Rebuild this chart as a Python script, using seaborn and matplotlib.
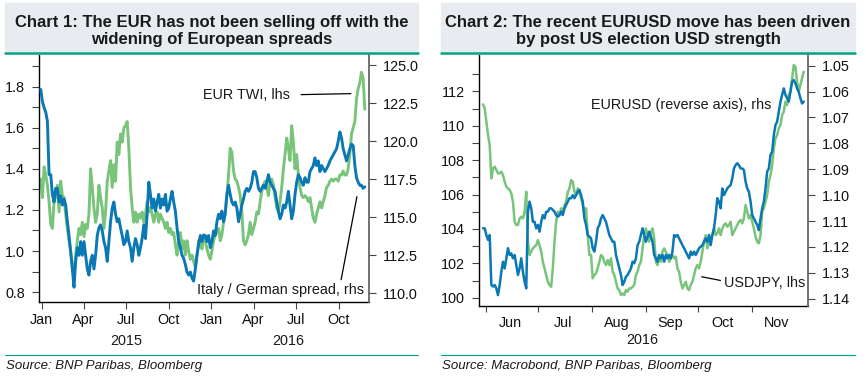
import pandas as pd
import seaborn as sns
import matplotlib.pyplot as plt
import matplotlib.dates as mdates
import matplotlib.ticker as tkr
from matplotlib.patches import Rectangle
from matplotlib.lines import Line2D

sns.set_style("ticks")
plt.rcParams['font.family'] = ['Liberation Sans', 'DejaVu Sans']
plt.rcParams['text.color'] = '#1a1a1a'

BLUE = '#0a78b4'
GREEN = '#78c47a'
TEAL = '#00a383'
BAND = '#e8ebef'

# ---- Chart 1 data (green on lhs, blue on rhs) ----
c1_start, c1_end = '2014-12-30', '2016-11-26'
eur_twi = [
    1.35, 1.26, 1.41, 1.37, 1.32, 1.24, 1.13, 1.11, 1.24, 1.27,
    1.32, 1.19, 1.34, 1.27, 1.26, 1.18, 1.11, 1.05, 1.00, 0.93,
    0.88, 0.98, 1.05, 1.11, 1.08, 1.14, 1.07, 1.13, 1.11, 1.18,
    1.40, 1.31, 1.21, 1.14, 1.18, 1.32, 1.26, 1.21, 1.11, 1.19,
    1.34, 1.39, 1.44, 1.31, 1.42, 1.34, 1.53, 1.47, 1.57, 1.53,
    1.60, 1.61, 1.63, 1.50, 1.31, 1.21, 1.14, 1.19, 1.14, 1.18,
    1.16, 1.19, 1.14, 1.18, 1.24, 1.19, 1.21, 1.18, 1.14, 1.18,
    1.19, 1.14, 1.18, 1.16, 1.14, 1.11, 1.14, 1.09, 1.11, 1.08,
    1.09, 1.03, 0.98, 1.05, 1.09, 1.01, 1.05, 0.98, 1.05, 1.00,
    0.96, 0.98, 0.95, 0.92, 0.98, 1.05, 1.06, 1.01, 1.08,
    1.05, 1.01, 0.98, 0.96, 1.00, 1.05, 1.08, 1.09, 1.11, 1.05,
    1.08, 1.14, 1.19, 1.27, 1.37, 1.50, 1.48, 1.39, 1.35, 1.34,
    1.31, 1.27, 1.19, 1.05, 1.03, 1.05, 1.08, 1.14, 1.08, 1.11,
    1.14, 1.19, 1.18, 1.24, 1.29, 1.32, 1.34, 1.31, 1.27, 1.34,
    1.35, 1.32, 1.26, 1.21, 1.19, 1.24, 1.31, 1.40, 1.47, 1.55,
    1.50, 1.44, 1.61, 1.53, 1.40, 1.47, 1.37, 1.31, 1.27, 1.26,
    1.27, 1.26, 1.24, 1.26, 1.21, 1.16, 1.14, 1.18, 1.21, 1.24,
    1.21, 1.24, 1.27, 1.31, 1.32, 1.34, 1.35, 1.34, 1.35, 1.35,
    1.34, 1.37, 1.37, 1.39, 1.37, 1.37, 1.40, 1.47, 1.57, 1.60,
    1.63, 1.74, 1.79, 1.82, 1.87, 1.84, 1.69,
]
it_de_spread = [
    123.4, 122.6, 122.2, 121.9, 121.3, 117.8, 117.8, 116.5, 116.0, 116.9,
    116.9, 116.0, 116.4, 115.8, 116.2, 115.8, 114.7, 113.8, 112.7, 111.6,
    110.4, 112.1, 113.0, 112.5, 113.4, 112.5, 113.4, 112.5, 111.6, 111.2,
    112.1, 112.5, 111.6, 112.5, 113.8, 114.3, 114.5, 114.1, 113.4, 113.0,
    112.1, 113.4, 114.7, 115.6, 116.0, 115.2, 114.7, 114.9, 114.3, 113.8,
    113.2, 113.4, 114.1, 113.4, 113.0, 112.1, 113.0, 113.6, 113.2, 112.5,
    113.0, 113.6, 114.5, 113.6, 115.2, 117.3, 116.5, 115.6, 116.2, 115.4,
    116.0, 116.5, 115.6, 116.2, 115.8, 116.5, 115.4, 115.6, 116.2, 116.7,
    116.0, 115.4, 114.3, 113.4, 113.0, 112.5, 112.3, 111.9, 111.4, 111.2,
    111.4, 111.0, 110.8, 111.6, 112.5, 113.2, 113.8, 113.4, 113.8,
    113.8, 113.4, 113.8, 113.0, 113.4, 114.1, 113.8, 114.7, 115.2, 114.9,
    115.4, 114.7, 115.2, 116.5, 117.1, 116.5, 116.0, 115.8, 116.0, 115.6,
    114.7, 115.2, 115.8, 116.2, 116.7, 116.9, 116.7, 116.9, 117.3, 118.0,
    118.0, 117.6, 116.9, 116.7, 116.9, 117.1, 116.9, 117.3, 117.8, 117.3,
    117.1, 116.9, 116.7, 116.0, 115.4, 114.9, 115.2, 115.8, 115.6, 116.0,
    116.7, 115.8, 114.9, 115.4, 116.5, 117.3, 117.8, 117.6, 117.3, 117.1,
    117.6, 117.3, 117.3, 118.0, 118.2, 118.4, 118.9, 118.4, 118.7, 118.0,
    118.4, 118.2, 118.0, 118.2, 118.4, 118.7, 118.9, 119.1, 119.3, 119.5,
    120.0, 120.6, 120.2, 119.5, 119.1, 118.7, 119.1, 119.5, 119.8, 119.7,
    118.4, 117.6, 117.3, 117.1, 117.1, 116.9, 117.0,
]

# ---- Chart 2 data (green USDJPY lhs, blue EURUSD rhs reversed) ----
c2_start, c2_end = '2016-05-30 02:00', '2016-11-30 18:00'
usdjpy = [
    111.24, 111.01, 110.23, 109.46, 108.88, 106.94, 107.52, 107.62, 107.42, 107.23,
    107.23, 107.33, 107.13, 106.75, 106.45, 106.36, 106.26, 106.07, 105.58, 104.42,
    104.23, 104.23, 104.61, 104.71, 104.61, 105.00, 106.16, 103.26, 102.48, 102.68,
    102.87, 102.97, 103.06, 103.35, 103.06, 102.68, 102.09, 101.71, 101.32, 100.93,
    100.74, 100.64, 101.71, 103.26, 104.42, 105.00, 104.81, 105.20, 105.00, 105.39,
    105.58, 106.16, 106.36, 106.84, 106.75, 106.16, 105.97, 106.36, 106.07, 105.78,
    105.39, 105.00, 105.20, 103.64, 102.48, 102.48, 101.13, 101.32, 101.42, 101.71,
    102.09, 102.48, 102.39, 102.09, 101.90, 102.19, 101.90, 102.29, 101.51, 101.32,
    100.93, 100.54, 100.45, 100.16, 100.25, 100.16, 100.45, 100.35, 100.54, 100.54,
    100.64, 100.74, 101.32, 101.51, 101.90, 102.09, 102.87,
    103.64, 104.03, 103.64, 103.26, 103.84, 104.03, 103.45, 102.09, 101.90, 102.48,
    102.09, 102.68, 102.87, 102.68, 102.48, 102.09, 102.29, 102.48, 102.29, 102.39,
    101.71, 101.51, 100.93, 100.54, 100.74, 100.93, 100.54, 100.45, 100.74, 100.93,
    101.32, 101.71, 101.90, 101.71, 102.09, 102.68, 103.26, 103.64, 102.87, 103.26,
    103.45, 103.64, 104.03, 103.64, 103.74, 104.03, 103.64, 104.03, 104.23, 104.32,
    104.13, 104.23, 104.42, 103.64, 103.84, 104.03, 104.23, 104.42, 104.52, 104.32,
    104.61, 105.39, 105.00, 104.61, 104.81, 104.42, 104.03, 103.55, 103.26, 103.16,
    103.64, 105.00, 105.20, 105.58, 105.97, 106.75, 107.13, 107.71, 108.68, 109.26,
    109.46, 109.85, 110.04, 110.62, 110.82, 111.40, 111.20, 111.78, 111.98, 112.75,
    113.53, 113.43, 112.56, 111.98, 112.37, 112.75, 113.14,
]
eurusd = [
    1.1128, 1.1128, 1.1154, 1.1173, 1.1154, 1.1347, 1.1353, 1.1347, 1.1360, 1.1386,
    1.1347, 1.1296, 1.1257, 1.1283, 1.1244, 1.1205, 1.1231, 1.1225, 1.1244, 1.1231,
    1.1270, 1.1308, 1.1283, 1.1244, 1.1296, 1.1334, 1.1360, 1.1064, 1.1025, 1.1051,
    1.1103, 1.1103, 1.1128, 1.1115, 1.1141, 1.1103, 1.1077, 1.1090, 1.1064, 1.1064,
    1.1051, 1.1051, 1.1057, 1.1064, 1.1077, 1.1083, 1.1077, 1.1064, 1.1077, 1.1051,
    1.1038, 1.1025, 1.1012, 1.1012, 1.1000, 1.1012, 1.1000, 1.0987, 1.0980, 1.1000,
    1.1025, 1.1090, 1.1115, 1.1154, 1.1160, 1.1167, 1.1205, 1.1218, 1.1180, 1.1128,
    1.1115, 1.1090, 1.1077, 1.1090, 1.1103, 1.1128, 1.1154, 1.1167, 1.1180, 1.1180,
    1.1231, 1.1257, 1.1283, 1.1308, 1.1347, 1.1334, 1.1315, 1.1308, 1.1296, 1.1283,
    1.1257, 1.1263, 1.1244, 1.1193, 1.1180, 1.1154, 1.1128,
    1.1154, 1.1180, 1.1160, 1.1141, 1.1160, 1.1180, 1.1231, 1.1244, 1.1257, 1.1231,
    1.1244, 1.1231, 1.1257, 1.1231, 1.1244, 1.1231, 1.1244, 1.1218, 1.1154, 1.1160,
    1.1154, 1.1167, 1.1180, 1.1193, 1.1205, 1.1218, 1.1231, 1.1244, 1.1218, 1.1231,
    1.1218, 1.1231, 1.1218, 1.1205, 1.1199, 1.1193, 1.1180, 1.1167, 1.1180, 1.1154,
    1.1193, 1.1154, 1.1128, 1.1077, 1.1012, 1.1025, 1.1051, 1.0974, 1.1000, 1.0987,
    1.0974, 1.0967, 1.0961, 1.0935, 1.0897, 1.0884, 1.0877, 1.0884, 1.0897, 1.0897,
    1.0903, 1.0948, 1.0974, 1.0987, 1.1025, 1.1077, 1.1090, 1.1103, 1.1115, 1.1135,
    1.1090, 1.1051, 1.1025, 1.0974, 1.0909, 1.0897, 1.0845, 1.0832, 1.0768, 1.0729,
    1.0716, 1.0678, 1.0639, 1.0613, 1.0588, 1.0613, 1.0626, 1.0639, 1.0601, 1.0562,
    1.0556, 1.0568, 1.0588, 1.0601, 1.0626, 1.0646, 1.0639,
]

dates1 = pd.date_range(c1_start, c1_end, periods=len(eur_twi))
dates2 = pd.date_range(c2_start, c2_end, periods=len(usdjpy))

FS = 10.4
W, H = 866, 382

fig = plt.figure(figsize=(W / 100, H / 100), dpi=100)

# header bands, rules and sources
for x0, x1, title, src in [
        (5, 418, 'Chart 1: The EUR has not been selling off with the\nwidening of European spreads',
         'Source: BNP Paribas, Bloomberg'),
        (441, 855, 'Chart 2: The recent EURUSD move has been driven\nby post US election USD strength',
         'Source: Macrobond, BNP Paribas, Bloomberg')]:
    fig.patches.append(Rectangle((x0 / W, 1 - 51 / H), (x1 - x0) / W, 48 / H,
                                 transform=fig.transFigure, color=BAND, zorder=0))
    fig.lines.append(Line2D([x0 / W, x1 / W], [1 - 53 / H] * 2, transform=fig.transFigure,
                            color=TEAL, lw=1.8))
    fig.lines.append(Line2D([x0 / W, x1 / W], [1 - 355 / H] * 2, transform=fig.transFigure,
                            color=TEAL, lw=0.8))
    fig.text((x0 + x1) / 2 / W, 1 - 31 / H, title, ha='center', va='center',
             fontsize=12, weight='bold', linespacing=1.1)
    fig.text((x0 + 1) / W, 1 - 366 / H, src, ha='left', va='center',
             fontsize=9.5, style='italic')


def style_axes(ax, axr):
    ax.spines['top'].set_visible(False)
    ax.spines['right'].set_visible(False)
    axr.spines['top'].set_visible(False)
    axr.spines['left'].set_visible(False)
    axr.spines['bottom'].set_visible(False)
    ax.spines['left'].set_color('black')
    ax.spines['bottom'].set_color('black')
    axr.spines['right'].set_color('#666666')
    for s in ['left', 'bottom']:
        ax.spines[s].set_linewidth(1.0)
    axr.spines['right'].set_linewidth(1.3)
    ax.tick_params(axis='y', which='both', length=5, width=0.8, color='#444444',
                   labelsize=FS, pad=5, labelcolor='#111111')
    axr.tick_params(axis='y', which='both', length=5, width=0.8, color='#444444',
                    labelsize=FS, pad=5, labelcolor='#111111')
    ax.set_xlabel('')
    ax.set_ylabel('')
    axr.set_xlabel('')
    axr.set_ylabel('')
    ax.patch.set_alpha(0)


# ---- Chart 1 ----
ax1 = fig.add_axes([39 / W, 80 / H, 330 / W, 247 / H])
ax1r = ax1.twinx()
sns.lineplot(x=dates1, y=eur_twi, ax=ax1, color=GREEN, linewidth=2.1)
sns.lineplot(x=dates1, y=it_de_spread, ax=ax1r, color=BLUE, linewidth=2.1)
style_axes(ax1, ax1r)

ax1.set_ylim(0.752, 1.954)
ax1.yaxis.set_major_locator(tkr.FixedLocator([0.8, 1.0, 1.2, 1.4, 1.6, 1.8]))
ax1.yaxis.set_minor_locator(tkr.FixedLocator([0.9, 1.1, 1.3, 1.5, 1.7, 1.9]))
ax1.yaxis.set_major_formatter(tkr.FormatStrFormatter('%.1f'))
ax1r.set_ylim(109.43, 125.66)
ax1r.yaxis.set_major_locator(tkr.FixedLocator([110, 112.5, 115, 117.5, 120, 122.5, 125]))
ax1r.yaxis.set_major_formatter(tkr.FormatStrFormatter('%.1f'))

ax1.set_xlim(pd.Timestamp('2014-12-26 05:00'), pd.Timestamp('2016-12-05'))
ax1.xaxis.set_major_locator(mdates.MonthLocator(bymonth=[1, 4, 7, 10]))
ax1.xaxis.set_major_formatter(mdates.DateFormatter('%b'))
ax1.xaxis.set_minor_locator(tkr.NullLocator())
ax1.tick_params(axis='x', length=5, width=0.8, color='#444444', labelsize=FS, pad=3,
                labelcolor='#111111')
for yr, d in [('2015', '2015-07-02'), ('2016', '2016-06-15')]:
    ax1.text(pd.Timestamp(d), -0.157, yr, transform=ax1.get_xaxis_transform(),
             ha='center', va='center', fontsize=FS)

ax1.annotate('EUR TWI, lhs', xy=(pd.Timestamp('2016-10-27'), 1.766),
             xytext=(pd.Timestamp('2015-12-13'), 1.76), ha='left', va='center', fontsize=FS,
             arrowprops=dict(arrowstyle='-', color='black', lw=0.9, shrinkA=6, shrinkB=0,
                             relpos=(1, 0.5)))
ax1r.annotate('Italy / German spread, rhs', xy=(pd.Timestamp('2016-11-09'), 116.35),
              xytext=(pd.Timestamp('2016-11-24'), 110.22), ha='right', va='center',
              fontsize=FS,
              arrowprops=dict(arrowstyle='-', color='black', lw=0.9, shrinkA=0, shrinkB=0,
                              relpos=(0.86, 1.0)))

# ---- Chart 2 ----
ax2 = fig.add_axes([478.7 / W, 76 / H, 329.3 / W, 251 / H])
ax2r = ax2.twinx()
sns.lineplot(x=dates2, y=usdjpy, ax=ax2, color=GREEN, linewidth=1.8)
sns.lineplot(x=dates2, y=eurusd, ax=ax2r, color=BLUE, linewidth=1.8)
style_axes(ax2, ax2r)

ax2.set_ylim(99.52, 114.11)
ax2.yaxis.set_major_locator(tkr.FixedLocator(list(range(100, 113, 2))))
ax2.yaxis.set_minor_locator(tkr.FixedLocator(list(range(101, 114, 2))))
ax2.yaxis.set_major_formatter(tkr.FormatStrFormatter('%d'))
ax2r.set_ylim(1.1428, 1.0459)
ax2r.yaxis.set_major_locator(tkr.FixedLocator([1.05 + 0.01 * i for i in range(10)]))
ax2r.yaxis.set_major_formatter(tkr.FormatStrFormatter('%.2f'))

ax2.set_xlim(pd.Timestamp('2016-05-27 14:00'), pd.Timestamp('2016-12-03 05:00'))
month_starts = [pd.Timestamp(f'2016-{m:02d}-01') for m in range(6, 12)]
mid_months = [pd.Timestamp(f'2016-{m:02d}-15') for m in range(6, 12)]
ax2.xaxis.set_major_locator(tkr.FixedLocator(mdates.date2num(month_starts)))
ax2.xaxis.set_major_formatter(tkr.NullFormatter())
ax2.xaxis.set_minor_locator(tkr.FixedLocator(mdates.date2num(mid_months)))
ax2.xaxis.set_minor_formatter(mdates.DateFormatter('%b'))
ax2.tick_params(axis='x', which='major', length=4, width=0.8, color='#444444')
ax2.tick_params(axis='x', which='minor', length=0, labelsize=FS, pad=7,
                labelcolor='#111111')
ax2.text(pd.Timestamp('2016-08-30'), -0.137, '2016', transform=ax2.get_xaxis_transform(),
         ha='center', va='center', fontsize=FS)

ax2r.text(pd.Timestamp('2016-07-31'), 1.0652, 'EURUSD (reverse axis), rhs',
          ha='left', va='center', fontsize=FS)
ax2.annotate('USDJPY, lhs', xy=(pd.Timestamp('2016-10-03'), 101.22),
             xytext=(pd.Timestamp('2016-10-15 16:00'), 100.87), ha='left', va='center',
             fontsize=FS,
             arrowprops=dict(arrowstyle='-', color='black', lw=0.9, shrinkA=0, shrinkB=0,
                             relpos=(0, 0.62)))

fig.savefig('out.png', dpi=100)
